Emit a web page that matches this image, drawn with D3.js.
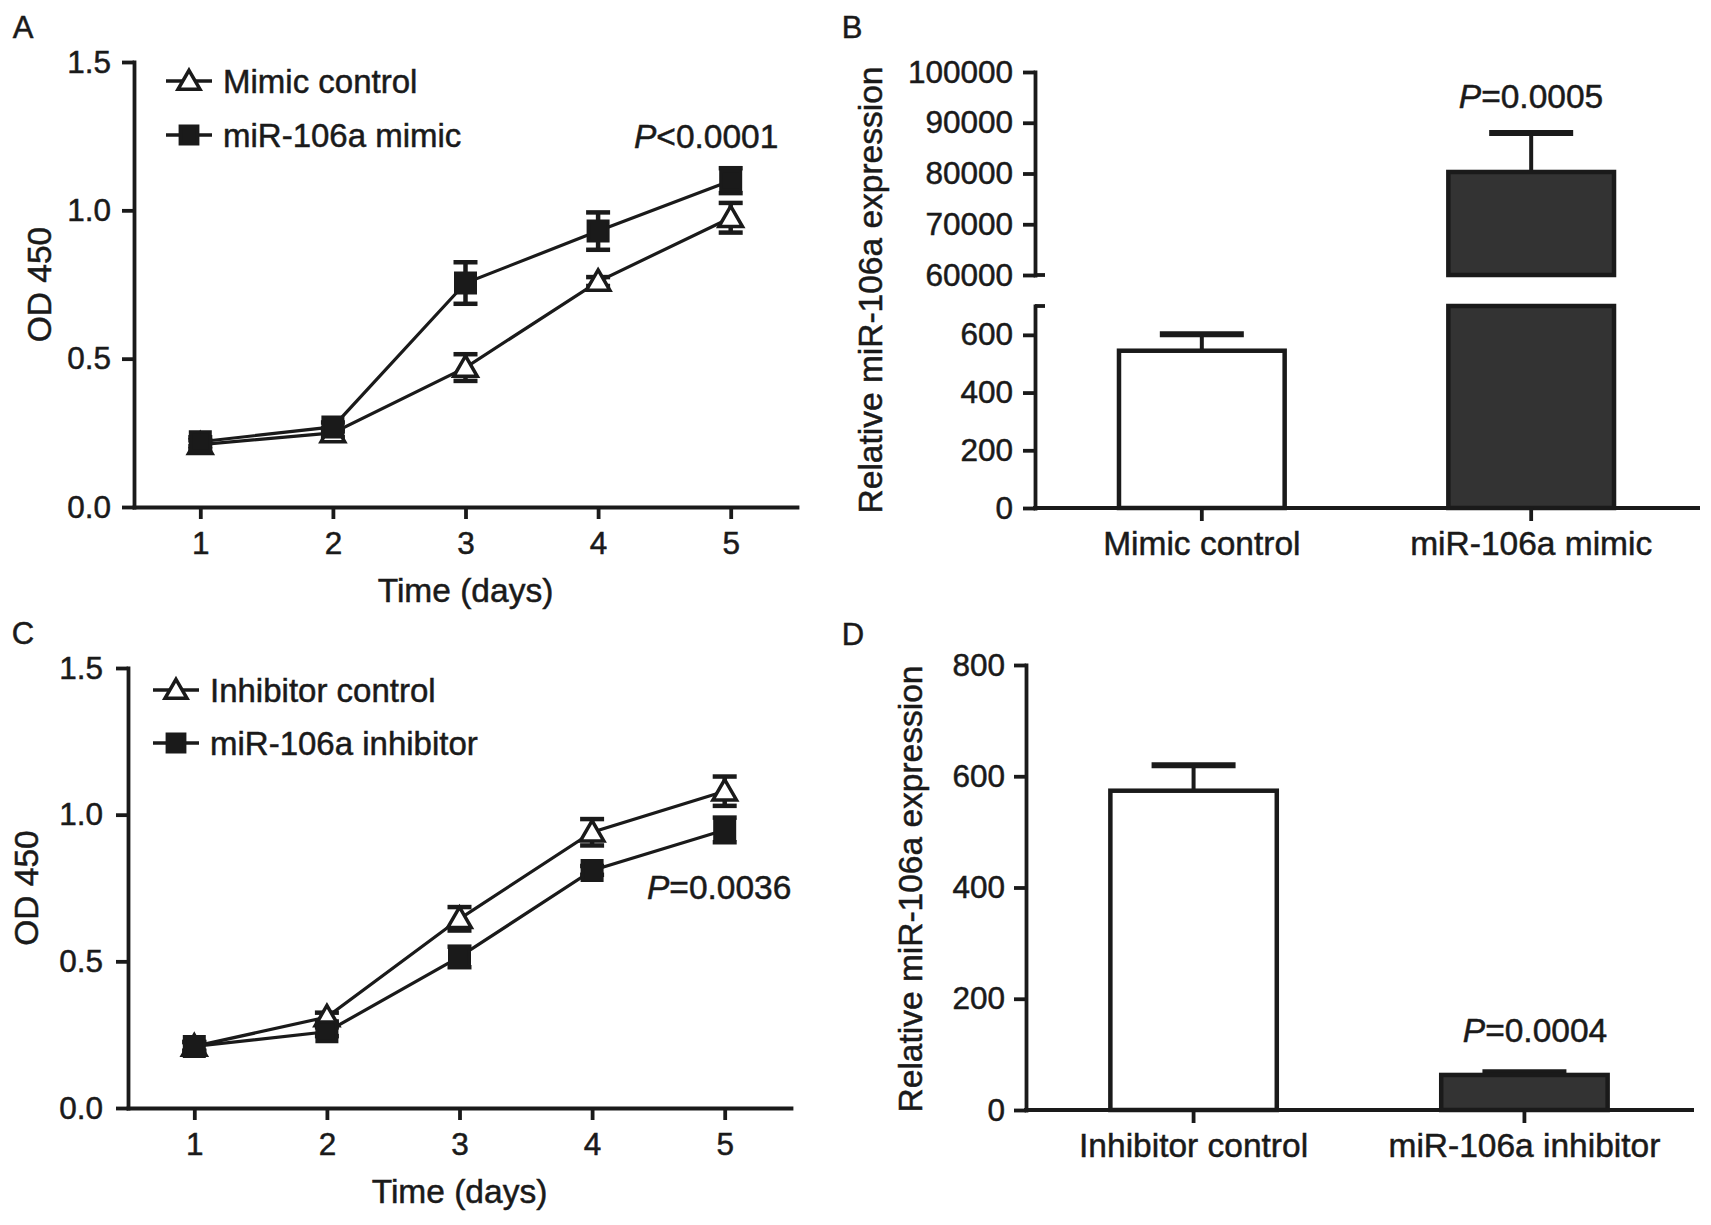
<!DOCTYPE html>
<html>
<head>
<meta charset="utf-8">
<script src="https://cdn.jsdelivr.net/npm/d3@7"></script>
<style>
  body { margin: 0; background: #fff; }
  text { font-family: "Liberation Sans", Arial, sans-serif; fill: #1a1a1a; stroke: #1a1a1a; stroke-width: 0.5px; }
</style>
</head>
<body>
<svg id="fig" width="1711" height="1225"></svg>
<script>
// ---- data ----
const DAYS = [1, 2, 3, 4, 5];
const OD_TICKS = [0, 0.5, 1.0, 1.5];

const MIMIC_CONTROL = [0.21, 0.25, 0.47, 0.76, 0.975];
const MIMIC_CONTROL_SD = [0.015, 0.015, 0.045, 0.015, 0.05];
const MIMIC = [0.22, 0.27, 0.755, 0.93, 1.10];
const MIMIC_SD = [0.015, 0.015, 0.07, 0.063, 0.042];

const INHIB_CONTROL = [0.21, 0.31, 0.645, 0.94, 1.08];
const INHIB_CONTROL_SD = [0.015, 0.015, 0.04, 0.045, 0.05];
const INHIB = [0.21, 0.26, 0.515, 0.81, 0.948];
const INHIB_SD = [0.015, 0.015, 0.035, 0.015, 0.042];

const B_CATS = ['Mimic control', 'miR-106a mimic'];
const B_VALUES = [545, 80300];
const B_SD = [57, 7700];
const B_TICKS_LOW = [0, 200, 400, 600];
const B_TICKS_HIGH = [60000, 70000, 80000, 90000, 100000];

const D_CATS = ['Inhibitor control', 'miR-106a inhibitor'];
const D_VALUES = [574, 63];
const D_SD = [46, 5];
const D_TICKS = [0, 200, 400, 600, 800];

const INK = '#1a1a1a';
const DARK = '#333333';
const TICK_FONT = 31.5;
const FONT = 33.5;

const svg = d3.select('#fig');

function styleAxis(g) {
    g.selectAll('path, line').attr('stroke', INK).attr('stroke-width', 3.8);
    g.select('.domain').attr('stroke-linecap', 'square');
    g.selectAll('text').attr('font-size', TICK_FONT).attr('fill', INK);
}

function label(x, y, txt, opts = {}) {
    const t = svg.append('text')
        .attr('x', x).attr('y', y)
        .attr('font-size', opts.size || FONT)
        .attr('text-anchor', opts.anchor || 'start')
        .attr('dominant-baseline', 'central');
    if (opts.rotate) t.attr('transform', `rotate(-90, ${x}, ${y})`);
    if (opts.italicP) {
        t.append('tspan').attr('font-style', 'italic').text('P');
        t.append('tspan').text(txt);
    } else {
        t.text(txt);
    }
    return t;
}

const triangle = d3.symbol(d3.symbolTriangle, 240);
const square = d3.symbol(d3.symbolSquare, 380);

function linePanel(cfg) {
    const g = svg.append('g');
    const x = d3.scaleLinear().domain([0.5, 5.5]).range([cfg.left, cfg.right]);
    const y = d3.scaleLinear().domain([0, 1.5]).range([cfg.bottom, cfg.top]);

    g.append('g')
        .attr('transform', `translate(0,${cfg.bottom})`)
        .call(d3.axisBottom(x).tickValues(DAYS).tickSize(12).tickSizeOuter(0)
            .tickPadding(13).tickFormat(d3.format('d')))
        .call(styleAxis);

    g.append('g')
        .attr('transform', `translate(${cfg.left},0)`)
        .call(d3.axisLeft(y).tickValues(OD_TICKS).tickSize(12).tickSizeOuter(0)
            .tickPadding(cfg.yPad).tickFormat(d3.format('.1f')))
        .call(styleAxis);

    const line = d3.line().x((d, i) => x(DAYS[i])).y(d => y(d));

    cfg.series.forEach(s => {
        g.append('path')
            .datum(s.values)
            .attr('d', line)
            .attr('fill', 'none')
            .attr('stroke', INK)
            .attr('stroke-width', 3.2);
    });

    cfg.series.forEach(s => {
        const eb = g.append('g').attr('stroke', INK).attr('stroke-width', 4.5);
        s.values.forEach((v, i) => {
            const cx = x(DAYS[i]);
            const y0 = y(v - s.sd[i]);
            const y1 = y(v + s.sd[i]);
            eb.append('line').attr('x1', cx).attr('x2', cx).attr('y1', y0).attr('y2', y1);
            eb.append('line').attr('x1', cx - 12).attr('x2', cx + 12).attr('y1', y0).attr('y2', y0);
            eb.append('line').attr('x1', cx - 12).attr('x2', cx + 12).attr('y1', y1).attr('y2', y1);
        });
        g.selectAll(null)
            .data(s.values)
            .enter()
            .append('path')
            .attr('d', s.shape === 'tri' ? triangle : square)
            .attr('transform', (d, i) => `translate(${x(DAYS[i])},${y(d) + (s.shape === 'tri' ? 2 : 0)})`)
            .attr('fill', s.shape === 'tri' ? '#fff' : INK)
            .attr('stroke', INK)
            .attr('stroke-width', 3.5);
    });

    // legend
    cfg.series.forEach((s, i) => {
        const ly = cfg.legendY[i];
        g.append('line')
            .attr('x1', cfg.legendX).attr('x2', cfg.legendX + 46)
            .attr('y1', ly).attr('y2', ly)
            .attr('stroke', INK).attr('stroke-width', 3.5);
        g.append('path')
            .attr('d', s.shape === 'tri' ? d3.symbol(d3.symbolTriangle, 210) : d3.symbol(d3.symbolSquare, 300))
            .attr('transform', `translate(${cfg.legendX + 23},${ly + (s.shape === 'tri' ? 2 : 0)})`)
            .attr('fill', s.shape === 'tri' ? '#fff' : INK)
            .attr('stroke', INK).attr('stroke-width', 3.5);
        label(cfg.legendX + 57, ly, s.name, { size: 33 });
    });

    label((cfg.left + cfg.right) / 2, cfg.bottom + 83, 'Time (days)', { anchor: 'middle' });
    label(cfg.yLabelX, (cfg.top + cfg.bottom) / 2, 'OD 450', { anchor: 'middle', rotate: true });
}

// ---- panel A ----
linePanel({
    left: 134, right: 797, top: 62, bottom: 507, yPad: 11,
    legendX: 166, legendY: [81, 135], yLabelX: 39,
    series: [
        { name: 'Mimic control', values: MIMIC_CONTROL, sd: MIMIC_CONTROL_SD, shape: 'tri' },
        { name: 'miR-106a mimic', values: MIMIC, sd: MIMIC_SD, shape: 'sq' }
    ]
});
label(634, 136, '<0.0001', { italicP: true });
label(23, 27, 'A', { anchor: 'middle', size: 31 });

// ---- panel C ----
linePanel({
    left: 128, right: 791, top: 668, bottom: 1108, yPad: 13,
    legendX: 153, legendY: [690, 743], yLabelX: 26,
    series: [
        { name: 'Inhibitor control', values: INHIB_CONTROL, sd: INHIB_CONTROL_SD, shape: 'tri' },
        { name: 'miR-106a inhibitor', values: INHIB, sd: INHIB_SD, shape: 'sq' }
    ]
});
label(647, 887, '=0.0036', { italicP: true });
label(23, 633, 'C', { anchor: 'middle', size: 31 });

// ---- bar helpers ----
function drawBar(g, x0, w, yTop, yBottom, dark) {
    g.append('rect')
        .attr('x', x0).attr('y', yTop)
        .attr('width', w).attr('height', yBottom - yTop)
        .attr('fill', dark ? DARK : '#fff')
        .attr('stroke', INK).attr('stroke-width', 4.5);
}

function drawErr(g, cx, yv, ye) {
    g.append('line').attr('x1', cx).attr('x2', cx).attr('y1', yv).attr('y2', ye)
        .attr('stroke', INK).attr('stroke-width', 4);
    g.append('line').attr('x1', cx - 42).attr('x2', cx + 42).attr('y1', ye).attr('y2', ye)
        .attr('stroke', INK).attr('stroke-width', 6);
}

function catAxis(g, x, yPos, x0, x1) {
    g.append('g')
        .attr('transform', `translate(0,${yPos})`)
        .call(d3.axisBottom(x).tickSize(13).tickSizeOuter(0).tickPadding(10))
        .call(styleAxis)
        .call(a => a.selectAll('text').attr('font-size', FONT))
        .call(a => a.select('.domain').attr('d', `M${x0},0H${x1}`).attr('stroke-width', 4));
}

// ---- panel B (broken axis) ----
(function () {
    const g = svg.append('g');
    const axisX = 1035;
    const x = d3.scaleBand().domain(B_CATS).range([axisX, 1698]).paddingInner(0.497).paddingOuter(0.255);
    const yLow = d3.scaleLinear().domain([0, 700]).range([508, 306]);
    const yHigh = d3.scaleLinear().domain([60000, 100000]).range([275, 72]);

    B_VALUES.forEach((v, i) => {
        const bx = x(B_CATS[i]);
        const cx = bx + x.bandwidth() / 2;
        if (v <= 700) {
            drawErr(g, cx, yLow(v), yLow(v + B_SD[i]));
            drawBar(g, bx, x.bandwidth(), yLow(v), yLow(0), i === 1);
        } else {
            drawErr(g, cx, yHigh(v), yHigh(v + B_SD[i]));
            drawBar(g, bx, x.bandwidth(), yHigh(v), yHigh(60000), true);
            drawBar(g, bx, x.bandwidth(), yLow(700), yLow(0), true);
        }
    });

    g.append('g')
        .attr('transform', `translate(${axisX},0)`)
        .call(d3.axisLeft(yLow).tickValues(B_TICKS_LOW).tickSize(12).tickSizeOuter(0).tickPadding(10))
        .call(styleAxis);
    g.append('g')
        .attr('transform', `translate(${axisX},0)`)
        .call(d3.axisLeft(yHigh).tickValues(B_TICKS_HIGH).tickSize(12).tickSizeOuter(0).tickPadding(10).tickFormat(d3.format('d')))
        .call(styleAxis);
    // break marks
    g.append('line').attr('x1', axisX).attr('x2', axisX + 10).attr('y1', yHigh(60000)).attr('y2', yHigh(60000))
        .attr('stroke', INK).attr('stroke-width', 3.8);
    g.append('line').attr('x1', axisX).attr('x2', axisX + 10).attr('y1', yLow(700)).attr('y2', yLow(700))
        .attr('stroke', INK).attr('stroke-width', 3.8);

    catAxis(g, x, 508, axisX, 1698);

    label(1531, 96, '=0.0005', { italicP: true, anchor: 'middle' });
    label(870, 290, 'Relative miR-106a expression', { anchor: 'middle', rotate: true });
    label(852, 27, 'B', { anchor: 'middle', size: 31 });
})();

// ---- panel D ----
(function () {
    const g = svg.append('g');
    const axisX = 1026;
    const x = d3.scaleBand().domain(D_CATS).range([axisX, 1692]).paddingInner(0.497).paddingOuter(0.255);
    const y = d3.scaleLinear().domain([0, 800]).range([1110, 665]);

    D_VALUES.forEach((v, i) => {
        const bx = x(D_CATS[i]);
        const cx = bx + x.bandwidth() / 2;
        drawErr(g, cx, y(v), y(v + D_SD[i]));
        drawBar(g, bx, x.bandwidth(), y(v), y(0), i === 1);
    });

    g.append('g')
        .attr('transform', `translate(${axisX},0)`)
        .call(d3.axisLeft(y).tickValues(D_TICKS).tickSize(12).tickSizeOuter(0).tickPadding(9))
        .call(styleAxis);

    catAxis(g, x, 1110, axisX, 1692);

    label(1535, 1030, '=0.0004', { italicP: true, anchor: 'middle' });
    label(910, 889, 'Relative miR-106a expression', { anchor: 'middle', rotate: true });
    label(853, 634, 'D', { anchor: 'middle', size: 31 });
})();
</script>
</body>
</html>
